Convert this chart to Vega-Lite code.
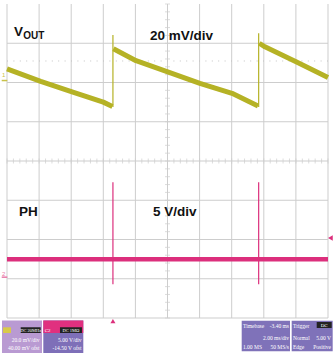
{
  "$schema": "https://vega.github.io/schema/vega-lite/v6.json",
  "width": 321,
  "height": 314,
  "autosize": {"type": "none"},
  "padding": {"left": 7, "top": 4, "right": 5, "bottom": 36},
  "background": "white",
  "config": {"view": {"stroke": null}, "font": "Liberation Sans"},
  "datasets": {
    "vgrid": [
      {"t": -6.6}, {"t": -4.6}, {"t": -2.6}, {"t": -0.6}, {"t": 1.4}, {"t": 3.4},
      {"t": 5.4}, {"t": 7.4}, {"t": 9.4}, {"t": 11.4}, {"t": 13.4}
    ],
    "hgrid": [
      {"d": -4}, {"d": -3}, {"d": -2}, {"d": -1}, {"d": 0}, {"d": 1}, {"d": 2}, {"d": 3}
    ],
    "xticks": [
      {"t": -6.6}, {"t": -6.2}, {"t": -5.8}, {"t": -5.4}, {"t": -5}, {"t": -4.6}, {"t": -4.2}, {"t": -3.8}, {"t": -3.4}, {"t": -3},
      {"t": -2.6}, {"t": -2.2}, {"t": -1.8}, {"t": -1.4}, {"t": -1}, {"t": -0.6}, {"t": -0.2}, {"t": 0.2}, {"t": 0.6}, {"t": 1},
      {"t": 1.4}, {"t": 1.8}, {"t": 2.2}, {"t": 2.6}, {"t": 3}, {"t": 3.4}, {"t": 3.8}, {"t": 4.2}, {"t": 4.6}, {"t": 5},
      {"t": 5.4}, {"t": 5.8}, {"t": 6.2}, {"t": 6.6}, {"t": 7}, {"t": 7.4}, {"t": 7.8}, {"t": 8.2}, {"t": 8.6}, {"t": 9},
      {"t": 9.4}, {"t": 9.8}, {"t": 10.2}, {"t": 10.6}, {"t": 11}, {"t": 11.4}, {"t": 11.8}, {"t": 12.2}, {"t": 12.6}, {"t": 13},
      {"t": 13.4}
    ],
    "yticks": [
      {"d": -4}, {"d": -3.8}, {"d": -3.6}, {"d": -3.4}, {"d": -3.2}, {"d": -3}, {"d": -2.8}, {"d": -2.6}, {"d": -2.4}, {"d": -2.2},
      {"d": -2}, {"d": -1.8}, {"d": -1.6}, {"d": -1.4}, {"d": -1.2}, {"d": -1}, {"d": -0.8}, {"d": -0.6}, {"d": -0.4}, {"d": -0.2},
      {"d": 0}, {"d": 0.2}, {"d": 0.4}, {"d": 0.6}, {"d": 0.8}, {"d": 1}, {"d": 1.2}, {"d": 1.4}, {"d": 1.6}, {"d": 1.8},
      {"d": 2}, {"d": 2.2}, {"d": 2.4}, {"d": 2.6}, {"d": 2.8}, {"d": 3}, {"d": 3.2}, {"d": 3.4}, {"d": 3.6}, {"d": 3.8}, {"d": 4}
    ],
    "vout": [
      {"seg": "a", "t": -6.6, "mV": 5.9},
      {"seg": "a", "t": -4.5, "mV": -0.4},
      {"seg": "a", "t": -2.5, "mV": -5.9},
      {"seg": "a", "t": -0.6, "mV": -11.0},
      {"seg": "a", "t": -0.03, "mV": -13.2},
      {"seg": "b", "t": 0.03, "mV": 16.2},
      {"seg": "b", "t": 1.44, "mV": 10.1},
      {"seg": "b", "t": 3.37, "mV": 4.5},
      {"seg": "b", "t": 5.42, "mV": -1.4},
      {"seg": "b", "t": 7.42, "mV": -6.5},
      {"seg": "b", "t": 9.04, "mV": -13.0},
      {"seg": "c", "t": 9.12, "mV": 19.0},
      {"seg": "c", "t": 9.47, "mV": 17.2},
      {"seg": "c", "t": 11.41, "mV": 9.6},
      {"seg": "c", "t": 13.4, "mV": 1.6}
    ],
    "voutEdges": [
      {"t": 0, "lo": -13.5, "hi": 23.2},
      {"t": 9.08, "lo": -13.5, "hi": 24.1}
    ],
    "ph": [
      {"t": -6.6, "V": 2.29},
      {"t": 13.4, "V": 2.29}
    ],
    "phEdges": [
      {"t": 0, "lo": -0.9, "hi": 12.1},
      {"t": 9.08, "lo": -0.9, "hi": 12.1}
    ]
  },
  "layer": [
    {
      "layer": [
        {
          "data": {"name": "vgrid"},
          "mark": {"type": "rule", "color": "#cdcdcd", "strokeWidth": 1},
          "encoding": {
            "x": {
              "field": "t", "type": "quantitative",
              "scale": {"domain": [-6.6, 13.4], "nice": false, "zero": false},
              "axis": {
                "grid": false, "labels": false, "ticks": false, "domain": false,
                "title": "t - Time - 2 ms/div",
                "titleFont": "Liberation Sans", "titleFontSize": 14, "titleFontWeight": "bold",
                "titleColor": "#111111", "titlePadding": 10
              }
            }
          }
        },
        {
          "data": {"name": "hgrid"},
          "mark": {"type": "rule", "color": "#cdcdcd", "strokeWidth": 1},
          "encoding": {
            "y": {"field": "d", "type": "quantitative", "scale": {"domain": [-4, 4], "nice": false, "zero": false}, "axis": null}
          }
        },
        {
          "data": {"name": "xticks"},
          "mark": {"type": "tick", "orient": "vertical", "size": 5, "thickness": 1, "color": "#cdcdcd"},
          "encoding": {
            "x": {"field": "t", "type": "quantitative", "axis": null},
            "y": {"datum": 0, "type": "quantitative", "axis": null}
          }
        },
        {
          "data": {"name": "yticks"},
          "mark": {"type": "tick", "orient": "horizontal", "size": 5, "thickness": 1, "color": "#cdcdcd"},
          "encoding": {
            "x": {"datum": 3.4, "type": "quantitative", "axis": null},
            "y": {"field": "d", "type": "quantitative", "axis": null}
          }
        },
        {
          "data": {"values": [{}]},
          "layer": [
            {
              "mark": {"type": "rule", "color": "#c4c4c4", "strokeWidth": 1, "strokeDash": [1, 5.4]},
              "encoding": {
                "x": {"datum": -6.6, "type": "quantitative", "axis": null},
                "x2": {"datum": 13.4},
                "y": {"datum": 2.548, "type": "quantitative", "axis": null}
              }
            },
            {
              "mark": {"type": "text", "align": "left", "baseline": "alphabetic", "fontSize": 13.5, "fontWeight": "bold", "color": "#111111"},
              "encoding": {"x": {"datum": -6.164, "type": "quantitative", "axis": null}, "y": {"datum": 3.185, "type": "quantitative", "axis": null}, "text": {"value": "V"}}
            },
            {
              "mark": {"type": "text", "align": "left", "baseline": "alphabetic", "fontSize": 10, "fontWeight": "bold", "color": "#111111"},
              "encoding": {"x": {"datum": -5.584, "type": "quantitative", "axis": null}, "y": {"datum": 3.108, "type": "quantitative", "axis": null}, "text": {"value": "OUT"}}
            },
            {
              "mark": {"type": "text", "align": "left", "baseline": "alphabetic", "fontSize": 13.5, "fontWeight": "bold", "color": "#111111"},
              "encoding": {"x": {"datum": 2.31, "type": "quantitative", "axis": null}, "y": {"datum": 3.083, "type": "quantitative", "axis": null}, "text": {"value": "20 mV/div"}}
            },
            {
              "mark": {"type": "text", "align": "left", "baseline": "alphabetic", "fontSize": 13.5, "fontWeight": "bold", "color": "#111111"},
              "encoding": {"x": {"datum": -5.852, "type": "quantitative", "axis": null}, "y": {"datum": -1.401, "type": "quantitative", "axis": null}, "text": {"value": "PH"}}
            },
            {
              "mark": {"type": "text", "align": "left", "baseline": "alphabetic", "fontSize": 13.5, "fontWeight": "bold", "color": "#111111"},
              "encoding": {"x": {"datum": 2.497, "type": "quantitative", "axis": null}, "y": {"datum": -1.401, "type": "quantitative", "axis": null}, "text": {"value": "5 V/div"}}
            },
            {
              "mark": {"type": "rect", "color": "#b99ad2"},
              "encoding": {"x": {"datum": -6.912, "type": "quantitative", "axis": null}, "x2": {"datum": -4.419}, "y": {"datum": -4.064, "type": "quantitative", "axis": null}, "y2": {"datum": -4.892}}
            },
            {
              "mark": {"type": "rect", "color": "#d8c94a"},
              "encoding": {"x": {"datum": -6.85, "type": "quantitative", "axis": null}, "x2": {"datum": -6.35}, "y": {"datum": -4.237, "type": "quantitative", "axis": null}, "y2": {"datum": -4.382}}
            },
            {
              "mark": {"type": "rect", "color": "#222222"},
              "encoding": {"x": {"datum": -5.746, "type": "quantitative", "axis": null}, "x2": {"datum": -4.5}, "y": {"datum": -4.237, "type": "quantitative", "axis": null}, "y2": {"datum": -4.382}}
            },
            {
              "mark": {"type": "text", "align": "center", "baseline": "alphabetic", "fontSize": 4.5, "color": "#ffffff", "font": "Liberation Sans Narrow"},
              "encoding": {"x": {"datum": -5.12, "type": "quantitative", "axis": null}, "y": {"datum": -4.357, "type": "quantitative", "axis": null}, "text": {"value": "DC 20MHz"}}
            },
            {
              "mark": {"type": "text", "align": "right", "baseline": "alphabetic", "fontSize": 5.5, "color": "#ffffff", "font": "Liberation Sans Narrow"},
              "encoding": {"x": {"datum": -4.575, "type": "quantitative", "axis": null}, "y": {"datum": -4.611, "type": "quantitative", "axis": null}, "text": {"value": "20.0 mV/div"}}
            },
            {
              "mark": {"type": "text", "align": "right", "baseline": "alphabetic", "fontSize": 5.5, "color": "#ffffff", "font": "Liberation Sans Narrow"},
              "encoding": {"x": {"datum": -4.575, "type": "quantitative", "axis": null}, "y": {"datum": -4.815, "type": "quantitative", "axis": null}, "text": {"value": "40.00 mV ofst"}}
            },
            {
              "mark": {"type": "rect", "color": "#7e6fb8"},
              "encoding": {"x": {"datum": -4.338, "type": "quantitative", "axis": null}, "x2": {"datum": -1.846}, "y": {"datum": -4.064, "type": "quantitative", "axis": null}, "y2": {"datum": -4.892}}
            },
            {
              "mark": {"type": "rect", "color": "#e0307f"},
              "encoding": {"x": {"datum": -4.338, "type": "quantitative", "axis": null}, "x2": {"datum": -1.846}, "y": {"datum": -4.064, "type": "quantitative", "axis": null}, "y2": {"datum": -4.382}}
            },
            {
              "mark": {"type": "rect", "color": "#222222"},
              "encoding": {"x": {"datum": -3.3, "type": "quantitative", "axis": null}, "x2": {"datum": -1.93}, "y": {"datum": -4.237, "type": "quantitative", "axis": null}, "y2": {"datum": -4.382}}
            },
            {
              "mark": {"type": "text", "align": "center", "baseline": "alphabetic", "fontSize": 4.5, "color": "#ffffff", "font": "Liberation Sans Narrow"},
              "encoding": {"x": {"datum": -2.615, "type": "quantitative", "axis": null}, "y": {"datum": -4.357, "type": "quantitative", "axis": null}, "text": {"value": "DC 1MΩ"}}
            },
            {
              "mark": {"type": "text", "align": "left", "baseline": "alphabetic", "fontSize": 5, "color": "#ffffff", "font": "Liberation Sans Narrow"},
              "encoding": {"x": {"datum": -4.25, "type": "quantitative", "axis": null}, "y": {"datum": -4.357, "type": "quantitative", "axis": null}, "text": {"value": "C2"}}
            },
            {
              "mark": {"type": "text", "align": "right", "baseline": "alphabetic", "fontSize": 5.5, "color": "#ffffff", "font": "Liberation Sans Narrow"},
              "encoding": {"x": {"datum": -1.958, "type": "quantitative", "axis": null}, "y": {"datum": -4.611, "type": "quantitative", "axis": null}, "text": {"value": "5.00 V/div"}}
            },
            {
              "mark": {"type": "text", "align": "right", "baseline": "alphabetic", "fontSize": 5.5, "color": "#ffffff", "font": "Liberation Sans Narrow"},
              "encoding": {"x": {"datum": -1.958, "type": "quantitative", "axis": null}, "y": {"datum": -4.815, "type": "quantitative", "axis": null}, "text": {"value": "-14.50 V ofst"}}
            },
            {
              "mark": {"type": "rect", "color": "#7f72b9"},
              "encoding": {"x": {"datum": 8.023, "type": "quantitative", "axis": null}, "x2": {"datum": 11.032}, "y": {"datum": -4.069, "type": "quantitative", "axis": null}, "y2": {"datum": -4.849}}
            },
            {
              "mark": {"type": "rect", "color": "#7f72b9"},
              "encoding": {"x": {"datum": 11.138, "type": "quantitative", "axis": null}, "x2": {"datum": 13.692}, "y": {"datum": -4.069, "type": "quantitative", "axis": null}, "y2": {"datum": -4.849}}
            },
            {
              "mark": {"type": "rect", "color": "#222222"},
              "encoding": {"x": {"datum": 12.696, "type": "quantitative", "axis": null}, "x2": {"datum": 13.63}, "y": {"datum": -4.102, "type": "quantitative", "axis": null}, "y2": {"datum": -4.255}}
            },
            {
              "mark": {"type": "text", "align": "left", "baseline": "alphabetic", "fontSize": 5.5, "color": "#ffffff", "font": "Liberation Sans Narrow"},
              "encoding": {"x": {"datum": 8.104, "type": "quantitative", "axis": null}, "y": {"datum": -4.255, "type": "quantitative", "axis": null}, "text": {"value": "Timebase"}}
            },
            {
              "mark": {"type": "text", "align": "right", "baseline": "alphabetic", "fontSize": 5.5, "color": "#ffffff", "font": "Liberation Sans Narrow"},
              "encoding": {"x": {"datum": 10.97, "type": "quantitative", "axis": null}, "y": {"datum": -4.255, "type": "quantitative", "axis": null}, "text": {"value": "-3.40 ms"}}
            },
            {
              "mark": {"type": "text", "align": "right", "baseline": "alphabetic", "fontSize": 5.5, "color": "#ffffff", "font": "Liberation Sans Narrow"},
              "encoding": {"x": {"datum": 10.97, "type": "quantitative", "axis": null}, "y": {"datum": -4.561, "type": "quantitative", "axis": null}, "text": {"value": "2.00 ms/div"}}
            },
            {
              "mark": {"type": "text", "align": "left", "baseline": "alphabetic", "fontSize": 5.5, "color": "#ffffff", "font": "Liberation Sans Narrow"},
              "encoding": {"x": {"datum": 8.104, "type": "quantitative", "axis": null}, "y": {"datum": -4.79, "type": "quantitative", "axis": null}, "text": {"value": "1.00 MS"}}
            },
            {
              "mark": {"type": "text", "align": "right", "baseline": "alphabetic", "fontSize": 5.5, "color": "#ffffff", "font": "Liberation Sans Narrow"},
              "encoding": {"x": {"datum": 10.97, "type": "quantitative", "axis": null}, "y": {"datum": -4.79, "type": "quantitative", "axis": null}, "text": {"value": "50 MS/s"}}
            },
            {
              "mark": {"type": "text", "align": "left", "baseline": "alphabetic", "fontSize": 5.5, "color": "#ffffff", "font": "Liberation Sans Narrow"},
              "encoding": {"x": {"datum": 11.22, "type": "quantitative", "axis": null}, "y": {"datum": -4.255, "type": "quantitative", "axis": null}, "text": {"value": "Trigger"}}
            },
            {
              "mark": {"type": "text", "align": "center", "baseline": "alphabetic", "fontSize": 5, "color": "#ffffff", "font": "Liberation Sans Narrow"},
              "encoding": {"x": {"datum": 13.163, "type": "quantitative", "axis": null}, "y": {"datum": -4.235, "type": "quantitative", "axis": null}, "text": {"value": "DC"}}
            },
            {
              "mark": {"type": "text", "align": "left", "baseline": "alphabetic", "fontSize": 5.5, "color": "#ffffff", "font": "Liberation Sans Narrow"},
              "encoding": {"x": {"datum": 11.22, "type": "quantitative", "axis": null}, "y": {"datum": -4.561, "type": "quantitative", "axis": null}, "text": {"value": "Normal"}}
            },
            {
              "mark": {"type": "text", "align": "right", "baseline": "alphabetic", "fontSize": 5.5, "color": "#ffffff", "font": "Liberation Sans Narrow"},
              "encoding": {"x": {"datum": 13.587, "type": "quantitative", "axis": null}, "y": {"datum": -4.561, "type": "quantitative", "axis": null}, "text": {"value": "5.00 V"}}
            },
            {
              "mark": {"type": "text", "align": "left", "baseline": "alphabetic", "fontSize": 5.5, "color": "#ffffff", "font": "Liberation Sans Narrow"},
              "encoding": {"x": {"datum": 11.22, "type": "quantitative", "axis": null}, "y": {"datum": -4.79, "type": "quantitative", "axis": null}, "text": {"value": "Edge"}}
            },
            {
              "mark": {"type": "text", "align": "right", "baseline": "alphabetic", "fontSize": 5.5, "color": "#ffffff", "font": "Liberation Sans Narrow"},
              "encoding": {"x": {"datum": 13.587, "type": "quantitative", "axis": null}, "y": {"datum": -4.79, "type": "quantitative", "axis": null}, "text": {"value": "Positive"}}
            }
          ]
        }
      ]
    },
    {
      "layer": [
        {
          "data": {"name": "vout"},
          "mark": {"type": "line", "color": "#b5b225", "strokeWidth": 5, "strokeJoin": "round"},
          "encoding": {
            "x": {"field": "t", "type": "quantitative", "axis": null},
            "y": {"field": "mV", "type": "quantitative", "scale": {"domain": [-121, 39], "nice": false, "zero": false}, "axis": null},
            "detail": {"field": "seg"}
          }
        },
        {
          "data": {"name": "voutEdges"},
          "mark": {"type": "rule", "color": "#b5b225", "strokeWidth": 1.2},
          "encoding": {
            "x": {"field": "t", "type": "quantitative", "axis": null},
            "y": {"field": "lo", "type": "quantitative", "axis": null},
            "y2": {"field": "hi"}
          }
        },
        {
          "data": {"values": [{}]},
          "layer": [
            {
              "mark": {"type": "rule", "color": "#c9c24a", "strokeWidth": 1.5},
              "encoding": {"x": {"datum": -6.93, "type": "quantitative", "axis": null}, "x2": {"datum": -6.58}, "y": {"datum": 0, "type": "quantitative", "axis": null}}
            },
            {
              "mark": {"type": "text", "align": "center", "baseline": "alphabetic", "fontSize": 6, "color": "#c9c24a"},
              "encoding": {"x": {"datum": -6.8, "type": "quantitative", "axis": null}, "y": {"datum": 1.55, "type": "quantitative", "axis": null}, "text": {"value": "1"}}
            }
          ]
        }
      ]
    },
    {
      "layer": [
        {
          "data": {"name": "ph"},
          "mark": {"type": "line", "color": "#dc2f7c", "strokeWidth": 4.5},
          "encoding": {
            "x": {"field": "t", "type": "quantitative", "axis": null},
            "y": {"field": "V", "type": "quantitative", "scale": {"domain": [-5.2, 34.8], "nice": false, "zero": false}, "axis": null}
          }
        },
        {
          "data": {"name": "phEdges"},
          "mark": {"type": "rule", "color": "#dc2f7c", "strokeWidth": 1.2},
          "encoding": {
            "x": {"field": "t", "type": "quantitative", "axis": null},
            "y": {"field": "lo", "type": "quantitative", "axis": null},
            "y2": {"field": "hi"}
          }
        },
        {
          "data": {"values": [{}]},
          "layer": [
            {
              "mark": {"type": "rule", "color": "#e87aa8", "strokeWidth": 1.5},
              "encoding": {"x": {"datum": -6.93, "type": "quantitative", "axis": null}, "x2": {"datum": -6.58}, "y": {"datum": 0, "type": "quantitative", "axis": null}}
            },
            {
              "mark": {"type": "text", "align": "center", "baseline": "alphabetic", "fontSize": 6, "color": "#e87aa8"},
              "encoding": {"x": {"datum": -6.8, "type": "quantitative", "axis": null}, "y": {"datum": 0.2, "type": "quantitative", "axis": null}, "text": {"value": "2"}}
            },
            {
              "mark": {"type": "point", "shape": "triangle-left", "filled": true, "size": 30, "color": "#dc2f7c", "opacity": 1},
              "encoding": {"x": {"datum": 13.55, "type": "quantitative", "axis": null}, "y": {"datum": 5, "type": "quantitative", "axis": null}}
            },
            {
              "mark": {"type": "point", "shape": "triangle-up", "filled": true, "size": 25, "color": "#dc2f7c", "opacity": 1},
              "encoding": {"x": {"datum": 0, "type": "quantitative", "axis": null}, "y": {"datum": -5.6, "type": "quantitative", "axis": null}}
            }
          ]
        }
      ]
    }
  ],
  "resolve": {"scale": {"y": "independent"}}
}
